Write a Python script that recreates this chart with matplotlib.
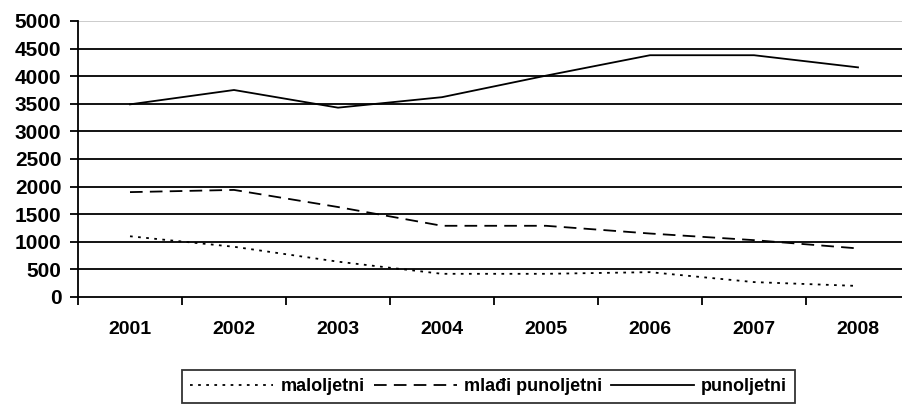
import matplotlib.pyplot as plt
import numpy as np

plt.rcParams['font.family'] = ['Liberation Sans', 'DejaVu Sans']
plt.rcParams['font.weight'] = 'bold'

years = ['2001', '2002', '2003', '2004', '2005', '2006', '2007', '2008']
maloljetni = [1100, 910, 640, 420, 420, 450, 270, 200]
mladi_punoljetni = [1900, 1940, 1630, 1290, 1290, 1150, 1030, 880]
punoljetni = [3490, 3750, 3430, 3620, 4010, 4380, 4380, 4160]

fig = plt.figure(figsize=(9.02, 4.04), dpi=100)
W, H = 902, 404
ax = fig.add_axes([78 / W, 107 / H, 832 / W, 276 / H])

x = np.arange(len(years))
ax.plot(x, maloljetni, color='black', lw=1.3, linestyle=(0, (1.5, 3)), label='maloljetni')
ax.plot(x, mladi_punoljetni, color='black', lw=1.3, linestyle=(0, (7, 4)), label='mlađi punoljetni')
ax.plot(x, punoljetni, color='black', lw=1.3, linestyle='-', label='punoljetni')

ax.set_xlim(-0.5, len(years) - 0.5)
ax.set_ylim(0, 5000)
ax.set_yticks(np.arange(0, 5001, 500))
for v in np.arange(500, 5000, 500):
    ax.axhline(v, color='black', lw=1.3, zorder=0)
ax.axhline(5000, color='#c8c8c8', lw=1.3, zorder=0)

ax.set_xticks(np.arange(len(years) + 1) - 0.5)
ax.set_xticklabels([])
ax.set_xticks(x, minor=True)
ax.set_xticklabels(years, minor=True)
ax.tick_params(axis='x', which='major', length=6, width=1.3, direction='out')
ax.tick_params(axis='x', which='minor', length=0, pad=17, labelsize=14)
ax.tick_params(axis='y', length=6, width=1.3, direction='out', labelsize=15, pad=6)
for lab in ax.get_xticklabels(minor=True) + ax.get_yticklabels():
    lab.set_fontweight('bold')

for s in ['top', 'right']:
    ax.spines[s].set_visible(False)
ax.spines['left'].set_linewidth(1.3)
ax.spines['bottom'].set_linewidth(1.3)

leg = fig.legend(loc='upper left', bbox_to_anchor=(182 / W, 1 - 370 / H), ncol=3,
                 frameon=True, fancybox=False, edgecolor='black', handlelength=4.6,
                 handletextpad=0.4, columnspacing=0.5, borderpad=0.45, borderaxespad=0,
                 prop={'weight': 'bold', 'size': 13})
leg.get_frame().set_linewidth(1.3)

fig.savefig('out.png', dpi=100)
